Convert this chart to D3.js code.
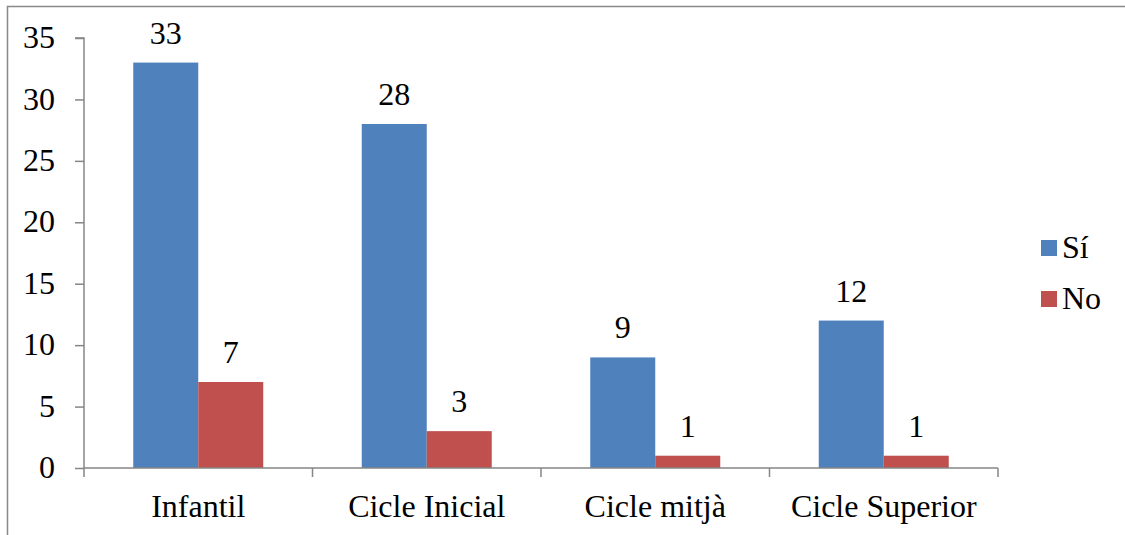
<!DOCTYPE html>
<html>
<head>
<meta charset="utf-8">
<script src="https://cdn.jsdelivr.net/npm/d3@7"></script>
<style>
  body { margin: 0; background: #fff; }
  svg text { font-family: "Liberation Serif", "Times New Roman", serif; fill: #000; }
</style>
</head>
<body>
<div id="chart"></div>
<script>
var categories = ["Infantil", "Cicle Inicial", "Cicle mitjà", "Cicle Superior"];
var seriesNames = ["Sí", "No"];
var siValues = [33, 28, 9, 12];
var noValues = [7, 3, 1, 1];
var yTicks = [0, 5, 10, 15, 20, 25, 30, 35];
var colors = ["#4F81BD", "#C0504D"];

var width = 1125, height = 535;
var plotLeft = 84, plotRight = 998, plotTop = 38, plotBottom = 468;
var fontSize = 32;

var svg = d3.select("#chart").append("svg")
  .attr("width", width)
  .attr("height", height);

// outer chart frame (cut off at right / bottom)
svg.append("path")
  .attr("d", "M7.5,540V6.5H1130")
  .attr("fill", "none")
  .attr("stroke", "#898989")
  .attr("stroke-width", 1.5);

var x = d3.scaleBand().domain(categories).range([plotLeft, plotRight]);
var barW = 65;
var y = d3.scaleLinear().domain([0, 35]).range([plotBottom, plotTop]);

var rows = categories.map(function(c, i) {
  return { cat: c, vals: [siValues[i], noValues[i]] };
});

var groups = svg.selectAll("g.cat")
  .data(rows)
  .enter().append("g")
  .attr("class", "cat");

seriesNames.forEach(function(s, k) {
  groups.append("rect")
    .attr("x", function(d) { return x(d.cat) + x.bandwidth() / 2 - barW + k * barW; })
    .attr("y", function(d) { return y(d.vals[k]); })
    .attr("width", barW)
    .attr("height", function(d) { return y(0) - y(d.vals[k]); })
    .attr("fill", colors[k]);

  groups.append("text")
    .attr("x", function(d) { return x(d.cat) + x.bandwidth() / 2 - barW / 2 + k * barW; })
    .attr("y", function(d) { return y(d.vals[k]) - 19; })
    .attr("text-anchor", "middle")
    .style("font-size", fontSize + "px")
    .text(function(d) { return d.vals[k]; });
});

// y axis
var yAxis = svg.append("g")
  .attr("transform", "translate(" + plotLeft + ",0)")
  .call(d3.axisLeft(y).tickValues(yTicks).tickSize(9).tickPadding(20));
yAxis.select(".domain").attr("stroke", "#868686").attr("stroke-width", 1.5)
  .attr("d", "M-9," + plotTop + "H0V" + plotBottom);
yAxis.selectAll(".tick line").attr("stroke", "#868686").attr("stroke-width", 1.5);
yAxis.selectAll(".tick text")
  .attr("dy", "0.3em")
  .style("font-size", fontSize + "px")
  .style("fill", "#000");

// x axis
var xAxis = svg.append("g")
  .attr("transform", "translate(0," + plotBottom + ")")
  .call(d3.axisBottom(x).tickSize(0).tickPadding(26));
xAxis.select(".domain").attr("stroke", "#868686").attr("stroke-width", 1.5)
  .attr("d", "M" + plotLeft + ",0H" + plotRight);
xAxis.selectAll(".tick text")
  .style("font-size", fontSize + "px")
  .style("fill", "#000");

var bounds = categories.map(function(c) { return x(c); }).concat([plotRight]);
xAxis.selectAll("line.sep")
  .data(bounds)
  .enter().append("line")
  .attr("class", "sep")
  .attr("x1", function(d) { return d; })
  .attr("x2", function(d) { return d; })
  .attr("y1", 0)
  .attr("y2", 9)
  .attr("stroke", "#868686")
  .attr("stroke-width", 1.5);

// legend
var legend = svg.selectAll("g.legend")
  .data(seriesNames)
  .enter().append("g")
  .attr("class", "legend")
  .attr("transform", function(d, i) { return "translate(1041," + (240 + i * 51) + ")"; });

legend.append("rect")
  .attr("width", 16)
  .attr("height", 16)
  .attr("fill", function(d, i) { return colors[i]; });

legend.append("text")
  .attr("x", 21)
  .attr("y", 18)
  .style("font-size", fontSize + "px")
  .text(function(d) { return d; });
</script>
</body>
</html>
